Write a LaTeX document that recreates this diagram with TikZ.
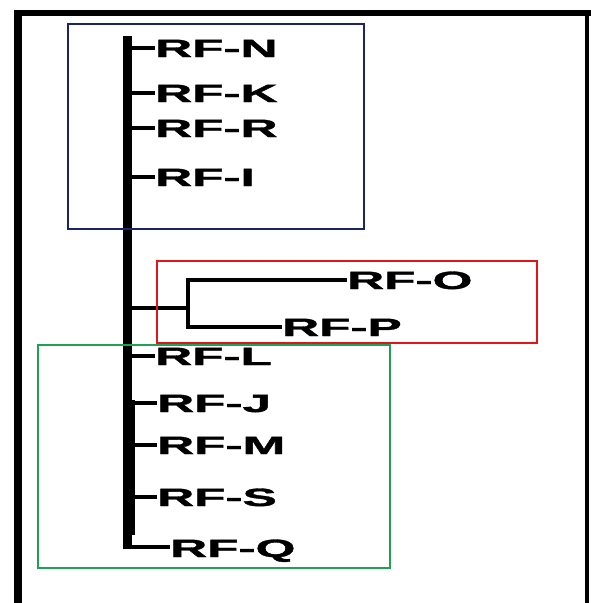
\documentclass[tikz,border=0pt]{standalone}
\usepackage{fontspec}
\setmainfont{Liberation Sans}
\newfontfamily\leaffont{Liberation Sans}[BoldFeatures={FakeBold=1.2}]
\usepackage{graphicx}
\definecolor{boxnavy}{RGB}{28,36,104}
\definecolor{boxred}{RGB}{226,22,24}
\definecolor{boxgreen}{RGB}{32,160,84}
\begin{document}
\begin{tikzpicture}[x=1pt,y=-1pt,
  leaf/.style={anchor=west,inner sep=0pt,text height=18pt,text depth=0pt,
    font=\leaffont\fontsize{25}{26}\selectfont\bfseries},
  twig/.style={line width=4.5pt},
  trunk/.style={line width=9pt},
  groupbox/.style={line width=2.2pt}]
\useasboundingbox (0,0) rectangle (591,603);
\fill[white] (0,0) rectangle (591,603);

% outer frame (top, left and right edges)
\draw[line width=6pt] (14,13) -- (591,13);
\draw[line width=8pt] (18,10) -- (18,603);
\draw[line width=4pt] (587,10) -- (587,603);

% leaf labels
\newcommand{\leaftext}[1]{\scalebox{2.05}[1]{#1}}
\node[leaf] (nN) at (155,48)  {\leaftext{RF-N}};
\node[leaf] (nK) at (155,93)  {\leaftext{RF-K}};
\node[leaf] (nR) at (155,128) {\leaftext{RF-R}};
\node[leaf] (nI) at (155,177) {\leaftext{RF-I}};
\node[leaf] (nO) at (347,280) {\leaftext{RF-O}};
\node[leaf] (nP) at (282,327) {\leaftext{RF-P}};
\node[leaf] (nL) at (155,356) {\leaftext{RF-L}};
\node[leaf] (nJ) at (157,403) {\leaftext{RF-J}};
\node[leaf] (nM) at (157,445) {\leaftext{RF-M}};
\node[leaf] (nS) at (157,497) {\leaftext{RF-S}};
\node[leaf] (nQ) at (170,548) {\leaftext{RF-Q}};

% main trunk of the tree
\coordinate (top) at (127,36);
\coordinate (bot) at (122.5,547);
\coordinate (fork) at (127,308);
\coordinate (split) at (188,308);
\draw[trunk] (top) -- (127,549);
\draw[line width=12pt] (128.5,400) -- (128.5,535);

% branches to the leaves
\foreach \n in {nN,nK,nR,nI,nL,nJ,nM,nS}
  \draw[twig] (top |- \n.west) -- (\n.west);
\draw[twig] (bot) -- (bot -| nQ.west);

% inner clade RF-O / RF-P
\draw[twig] (fork) -- (split);
\draw[twig] (nO.west) -- (split |- nO.west) -- (split |- nP.west) -- (nP.west);

% group boxes
\draw[groupbox,boxnavy] (68,24) rectangle (364,229);
\draw[groupbox,boxred] (157,261) rectangle (537,343);
\draw[groupbox,boxgreen] (38,345) rectangle (390,568);
\end{tikzpicture}
\end{document}
